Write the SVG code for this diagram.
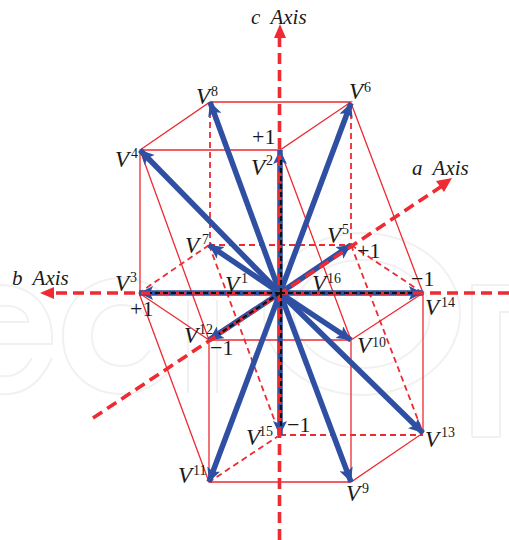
<svg xmlns="http://www.w3.org/2000/svg" width="509" height="540" viewBox="0 0 509 540">
<style>
.wm{fill:none;stroke:#f1f1f1;stroke-width:2}
.s{fill:none;stroke:#ee2a33;stroke-width:1.3}
.d{fill:none;stroke:#ee2a33;stroke-width:1.8;stroke-dasharray:6 4}
.ax{fill:none;stroke:#ee2a33;stroke-width:3.6;stroke-dasharray:11 6}
.v{fill:none;stroke:#2f4fa2;stroke-width:5.5;marker-end:url(#bh)}
.k{fill:none;stroke:#111;stroke-width:2.2;stroke-dasharray:5 3}
text{font-family:"Liberation Serif",serif;fill:#1a1a1a}
.l{font-size:23px;font-style:italic}
.u{font-size:14px}
.n{font-size:22px}
.t{font-size:21px;font-style:italic}
</style>
<defs>
<marker id="bh" markerUnits="userSpaceOnUse" markerWidth="18" markerHeight="16" refX="14" refY="7" orient="auto"><path d="M0 0L14 7L0 14L3 7Z" fill="#2f4fa2"/></marker>
</defs>
<rect width="509" height="540" fill="#fff"/>
<g id="watermark">
<path class="wm" d="M0 344H52C54 305 30 285 0 285M0 394C22 396 40 385 52 358"/>
<path class="wm" d="M0 322H28C28 310 15 305 0 306M0 376C14 378 24 372 32 358"/>
<path class="wm" d="M170 300C155 285 140 278 122 278C88 278 63 303 63 336C63 370 88 394 122 394C140 394 155 387 170 370M150 320C143 310 133 305 122 305C104 305 92 318 92 336C92 354 104 366 122 366C133 366 143 361 150 350"/>
<path class="wm" d="M188 393V300M217 393V300"/>
<ellipse class="wm" cx="362" cy="314" rx="98" ry="81"/><ellipse class="wm" cx="362" cy="314" rx="68" ry="54"/>
<path class="wm" d="M472 437V285H509M500 437V312H509M472 437H500"/>
</g>
<g id="connectors">
<path class="s" d="M140 150L210 102H351L280 150H140V293M140 150L209 340M280 150L351 340M351 103L423 293V433L351 482H209V340H351V482M139 293L209 340M139 293L209 482M351 340L423 293"/>
<path class="d" d="M210 102V245M351 103V245M209 245H351M209 245L139 293M351 245L423 293M209 245L280 435M351 245L423 433M280 435H423M280 435L209 482"/>
<line class="v" x1="280" y1="293" x2="210" y2="102"/>
<line class="v" x1="280" y1="293" x2="140" y2="150"/>
<line class="v" x1="280" y1="293" x2="280" y2="150"/>
<line class="v" x1="280" y1="293" x2="351" y2="103"/>
<line class="v" x1="280" y1="293" x2="209" y2="245"/>
<line class="v" x1="280" y1="293" x2="351" y2="245"/>
<line class="v" x1="280" y1="293" x2="139" y2="293"/>
<line class="v" x1="280" y1="293" x2="423" y2="293"/>
<line class="v" x1="280" y1="293" x2="209" y2="340"/>
<line class="v" x1="280" y1="293" x2="351" y2="340"/>
<line class="v" x1="280" y1="293" x2="280" y2="435"/>
<line class="v" x1="280" y1="293" x2="423" y2="433"/>
<line class="v" x1="280" y1="293" x2="209" y2="482"/>
<line class="v" x1="280" y1="293" x2="351" y2="482"/>
<path class="ax" d="M279.5 540V36M509 293H52M93 418L442 186"/>
<path class="k" d="M281 293V158M281 293V428M280 293H150M280 293H412M280 293L219 334"/>
<path d="M280 24L286 38H274ZM40 293L54 287V299ZM452 178L444 192L436 181Z" fill="#ee2a33"/>
</g>
<g id="V1"><text class="l" x="225" y="292">V</text><text class="u" x="241" y="283">1</text></g>
<g id="V2"><text class="l" x="251" y="175">V</text><text class="u" x="266" y="165">2</text></g>
<g id="V3"><text class="l" x="115" y="291">V</text><text class="u" x="130" y="282">3</text></g>
<g id="V4"><text class="l" x="115" y="167">V</text><text class="u" x="131" y="158">4</text></g>
<g id="V5"><text class="l" x="327" y="243">V</text><text class="u" x="342" y="234">5</text></g>
<g id="V6"><text class="l" x="349" y="99">V</text><text class="u" x="364" y="92">6</text></g>
<g id="V7"><text class="l" x="185" y="253">V</text><text class="u" x="202" y="244">7</text></g>
<g id="V8"><text class="l" x="196" y="104">V</text><text class="u" x="211" y="96">8</text></g>
<g id="V9"><text class="l" x="346" y="501">V</text><text class="u" x="362" y="493">9</text></g>
<g id="V10"><text class="l" x="357" y="353">V</text><text class="u" x="372" y="347">10</text></g>
<g id="V11"><text class="l" x="178" y="483">V</text><text class="u" x="193" y="475">11</text></g>
<g id="V12"><text class="l" x="184" y="343">V</text><text class="u" x="199" y="334">12</text></g>
<g id="V13"><text class="l" x="425" y="447">V</text><text class="u" x="441" y="437">13</text></g>
<g id="V14"><text class="l" x="425" y="315">V</text><text class="u" x="441" y="307">14</text></g>
<g id="V15"><text class="l" x="246" y="445">V</text><text class="u" x="259" y="436">15</text></g>
<g id="V16"><text class="l" x="312" y="291">V</text><text class="u" x="327" y="283">16</text></g>
<g id="labels">
<text class="n" x="252" y="144">+1</text>
<text class="n" x="130" y="316">+1</text>
<text class="n" x="357" y="258">+1</text>
<text class="n" x="411" y="286">−1</text>
<text class="n" x="210" y="355">−1</text>
<text class="n" x="287" y="432">−1</text>
<text class="t" x="251" y="24" xml:space="preserve">c  Axis</text>
<text class="t" x="412" y="175" xml:space="preserve">a  Axis</text>
<text class="t" x="12" y="285" xml:space="preserve">b  Axis</text>
</g>
</svg>
